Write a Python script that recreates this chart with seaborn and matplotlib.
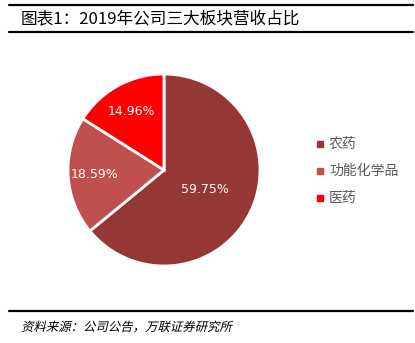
import matplotlib
matplotlib.use("Agg")
import matplotlib.pyplot as plt
import numpy as np
import seaborn as sns
from matplotlib.font_manager import FontProperties
from matplotlib.patches import PathPatch
from matplotlib.textpath import TextPath
from matplotlib.transforms import Affine2D

# Segment revenue share, 2019
segments = ["农药", "功能化学品", "医药"]
shares = [59.75, 18.59, 14.96]
colors = ["#953735", "#C0504D", "#FF0000"]

title = "图表1：2019年公司三大板块营收占比"
source = "资料来源：公司公告，万联证券研究所"

sns.set_theme(style="white")
plt.rcParams["font.family"] = ["Noto Sans CJK SC", "DejaVu Sans"]

W, H = 415, 343
fig = plt.figure(figsize=(W / 100, H / 100), dpi=100)
fig.patch.set_facecolor("white")


def fx(px):
    return px / W


def fy(py):
    return 1 - py / H


# header / footer rules
for y in (5, 32, 311):
    fig.add_artist(plt.Line2D([fx(9), fx(413)], [fy(y), fy(y)], color="black",
                              lw=1.6, transform=fig.transFigure))

fig.text(fx(21), fy(18.5), title, fontsize=12, color="black", va="center", ha="left")

# slanted source note (CJK fonts have no italic face, so shear the glyph outlines)
src_path = TextPath((0, 0), source, size=12.4,
                    prop=FontProperties(family="Noto Sans CJK SC"))
src_tf = Affine2D().skew_deg(14, 0).translate(21, H - 331)
fig.add_artist(PathPatch(src_path, transform=src_tf, facecolor="black",
                         edgecolor="none"))

# pie
cx, cy, r = 164, 170, 96
ax = fig.add_axes([fx(cx - r), fy(cy + r), (2 * r) / W, (2 * r) / H])
wedges, _ = ax.pie(shares, colors=colors, startangle=90, counterclock=False,
                   wedgeprops=dict(edgecolor="white", linewidth=2))
ax.set_xlim(-1, 1)
ax.set_ylim(-1, 1)
ax.set_aspect("equal")
ax.axis("off")

label_dist = [0.47, 0.73, 0.70]
for w, val, d in zip(wedges, shares, label_dist):
    ang = np.deg2rad((w.theta1 + w.theta2) / 2)
    ax.text(d * np.cos(ang), d * np.sin(ang), f"{val:.2f}%", color="white",
            fontsize=9, ha="center", va="center", family=["DejaVu Sans"])

# legend
for i, (name, c) in enumerate(zip(segments, colors)):
    y = 144 + i * 27
    fig.add_artist(plt.Rectangle((fx(317), fy(y + 3)), 6 / W, 6 / H, color=c,
                                 transform=fig.transFigure))
    fig.text(fx(329), fy(y), name, fontsize=10, color="#595959", va="center", ha="left")

fig.savefig("out.png", dpi=100, facecolor="white")
